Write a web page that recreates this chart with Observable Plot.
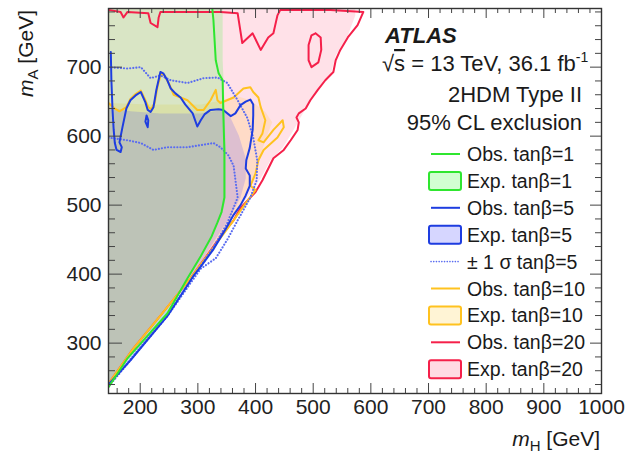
<!DOCTYPE html>
<html><head><meta charset="utf-8">
<script src="https://cdn.jsdelivr.net/npm/d3@7"></script>
<script src="https://cdn.jsdelivr.net/npm/@observablehq/plot@0.6"></script>
<style>
body{margin:0;background:#fff}
svg{font-family:"Liberation Sans",Arial,sans-serif}
</style>
</head><body><div id="chart"></div>
<script>
// ---- data: [mH, mA] in GeV ----
const xTicks = [200,300,400,500,600,700,800,900,1000];
const yTicks = [300,400,500,600,700];

const expTb20 = [[145,785],[573,785],[573,775],[560,746],[539,717],[530,688],[513,674],[495,652],[478,627],[464,606],[447,583],[426,565],[409,539],[391,517],[371,496],[348,467],[287,397],[235,343],[188,293],[145,241]];
const expTb10 = [[145,648],[218,646],[305,646],[343,652],[365,659],[391,652],[417,635],[429,620],[417,594],[403,557],[391,528],[374,504],[348,467],[287,397],[235,343],[145,240]];
const expTb1  = [[145,785],[343,785],[343,710],[346,652],[348,580],[348,511],[343,490],[333,471],[305,425],[282,394],[247,344],[178,279],[145,237]];
const expTb5  = [[145,642],[183,636],[235,633],[305,633],[343,638],[357,626],[371,601],[383,568],[383,539],[374,511],[360,489],[343,467],[305,417],[247,342],[145,238]];

const obsTb20 = [[145,783],[166,780],[171,772],[178,780],[214,778],[218,764],[230,758],[232,772],[235,780],[339,780],[369,778],[377,735],[395,749],[409,725],[422,743],[431,749],[438,775],[443,783],[530,783],[587,780],[577,761],[560,743],[547,725],[539,710],[535,693],[521,681],[508,667],[495,652],[487,640],[475,633],[471,627],[475,620],[473,609],[461,594],[449,580],[431,568],[412,536],[400,519],[374,496],[362,478],[344,460],[287,394],[235,340],[188,292],[145,241]];
const obsTb20Island = [[504,749],[513,743],[514,725],[509,707],[497,700],[492,710],[492,732],[497,746],[504,749]];
const obsTb10 = [[145,648],[154,641],[164,636],[176,642],[183,654],[192,661],[201,666],[209,652],[214,642],[219,639],[225,648],[230,672],[236,690],[242,688],[250,676],[258,660],[270,656],[282,652],[299,638],[310,638],[322,652],[331,667],[334,652],[339,648],[362,656],[379,669],[391,671],[396,664],[405,656],[409,642],[417,623],[412,604],[405,594],[414,591],[431,609],[447,623],[449,613],[438,598],[414,580],[405,565],[400,546],[391,528],[400,522],[383,503],[362,478],[287,394],[235,340],[188,292],[145,241]];
const obsTb5 = [[149,722],[150,681],[152,638],[154,609],[156,590],[159,580],[166,577],[168,584],[164,591],[169,612],[176,640],[183,652],[192,659],[201,664],[209,649],[213,638],[218,635],[223,642],[228,667],[235,693],[240,691],[247,681],[253,669],[261,662],[270,656],[278,646],[291,633],[299,614],[305,623],[312,632],[322,638],[336,639],[344,638],[357,629],[365,633],[374,645],[383,650],[391,653],[396,646],[396,630],[395,609],[390,583],[384,565],[383,553],[390,543],[390,528],[383,514],[374,500],[362,486],[348,465],[327,436],[305,411],[292,397],[247,339],[183,275],[145,240]];
const obsTb5Blob = [[211,630],[214,623],[213,613],[209,621],[211,630]];
const sigUpTb5 = [[145,700],[178,698],[201,700],[218,684],[235,688],[253,681],[282,677],[310,684],[334,685],[351,677],[369,652],[386,626],[396,598],[403,565],[402,536],[391,511],[369,478],[351,450],[331,423],[305,408],[247,339],[145,237]];
const sigDnTb5 = [[145,598],[178,594],[201,590],[223,580],[247,584],[282,584],[305,587],[327,590],[339,584],[353,572],[362,557],[369,511],[351,474],[327,439],[305,412],[247,341],[145,238]];
const obsTb1 = [[325,785],[327,768],[331,710],[336,691],[343,681],[344,637],[346,579],[346,511],[341,490],[334,475],[324,455],[305,426],[282,394],[258,359],[247,343],[178,278],[145,236]];

const C = {g:"#2fe62f", b:"#1e3de0", bd:"#5a6cf0", y:"#ffc21f", r:"#f5204a"};
const FILL = {g:["#00ff00",0.15], b:["#3333ff",0.17], y:["#ffc21f",0.16], r:["#ff3366",0.15]};

const W = 625, H = 461, mL = 108, mR = 24, mT = 8, mB = 68;
const plotW = W - mL - mR, plotH = H - mT - mB;
const xMinor = d3.range(160, 1001, 20).filter(v => v % 100 !== 0);
const yMinor = d3.range(240, 785, 20).filter(v => v % 100 !== 0);
const xMajor = xTicks, yMajor = yTicks;
const acc = {x: d => d[0], y: d => d[1]};
const fillPoly = (data, k) => Plot.line(data, {...acc, fill: FILL[k][0], fillOpacity: FILL[k][1], stroke: "none", clip: true});
const ln = (data, col, extra={}) => Plot.line(data, {...acc, stroke: col, strokeWidth: 2, clip: true, ...extra});
const tick = "#444";
const dotted = {strokeWidth: 2.1, strokeDasharray: "0.1,3", strokeLinecap: "round"};

const plot = Plot.plot({
  width: W, height: H, marginLeft: mL, marginRight: mR, marginTop: mT, marginBottom: mB,
  x: {domain: [145, 1000]},
  y: {domain: [227, 785]},
  style: {color: "#222", fontFamily: "Liberation Sans, Arial, sans-serif"},
  marks: [
    fillPoly(expTb20, "r"),
    fillPoly(expTb10, "y"),
    fillPoly(expTb1, "g"),
    fillPoly(expTb5, "b"),
    ln(obsTb20, C.r), ln(obsTb20Island, C.r),
    ln(obsTb10, C.y),
    ln(sigUpTb5, C.bd, dotted),
    ln(sigDnTb5, C.bd, dotted),
    ln(obsTb5, C.b), ln(obsTb5Blob, C.b),
    ln(obsTb1, C.g),
    // inward ticks on all four sides
    Plot.tickX(xMinor, {x: d => d, insetTop: plotH - 5, stroke: tick}),
    Plot.tickX(xMajor, {x: d => d, insetTop: plotH - 10, stroke: tick}),
    Plot.tickX(xMinor, {x: d => d, insetBottom: plotH - 5, stroke: tick}),
    Plot.tickX(xMajor, {x: d => d, insetBottom: plotH - 10, stroke: tick}),
    Plot.tickY(yMinor, {y: d => d, insetRight: plotW - 7, stroke: tick}),
    Plot.tickY(yMajor, {y: d => d, insetRight: plotW - 14, stroke: tick}),
    Plot.tickY(yMinor, {y: d => d, insetLeft: plotW - 6, stroke: tick}),
    Plot.tickY(yMajor, {y: d => d, insetLeft: plotW - 11, stroke: tick}),
    Plot.axisX(xTicks, {anchor: "bottom", tickSize: 0, tickPadding: 6, fontSize: 21, label: null, tickFormat: d => `${d}`}),
    Plot.axisY(yTicks, {anchor: "left", tickSize: 0, tickPadding: 7, fontSize: 21, label: null, tickFormat: d => `${d}`}),
    Plot.frame({stroke: "#333", strokeWidth: 1.4})
  ]
});
document.getElementById("chart").append(plot);

// ---- annotations (text, legend) ----
const svg = d3.select(plot);
const font = "Liberation Sans, Arial, sans-serif";
const g = svg.append("g").attr("font-family", font).attr("fill", "#1a1a1a").attr("text-anchor", "start");

// axis titles
const yt = g.append("text").attr("transform", "translate(33,10) rotate(-90)").attr("text-anchor", "end").attr("font-size", 21);
yt.append("tspan").attr("font-style", "italic").text("m");
yt.append("tspan").attr("font-size", 15).attr("dy", 5).text("A");
yt.append("tspan").attr("dy", -5).text(" [GeV]");
const xt = g.append("text").attr("x", 600).attr("y", 446).attr("text-anchor", "end").attr("font-size", 21);
xt.append("tspan").attr("font-style", "italic").text("m");
xt.append("tspan").attr("font-size", 15).attr("dy", 5).text("H");
xt.append("tspan").attr("dy", -5).text(" [GeV]");

// experiment labels
g.append("text").attr("x", 385).attr("y", 43).attr("font-size", 22).attr("font-weight", "bold").attr("font-style", "italic").text("ATLAS");
const en = g.append("text").attr("x", 382).attr("y", 71).attr("font-size", 22);
en.append("tspan").text("√");
en.append("tspan").style("text-decoration", "overline").text("s");
en.append("tspan").text(" = 13 TeV, 36.1 fb");
en.append("tspan").attr("font-size", 14).attr("dy", -9).text("-1");
g.append("text").attr("x", 582).attr("y", 102).attr("text-anchor", "end").attr("font-size", 22).text("2HDM Type II");
g.append("text").attr("x", 582).attr("y", 130).attr("text-anchor", "end").attr("font-size", 22).text("95% CL exclusion");

// legend
const legendLabels = ["Obs. tanβ=1","Exp. tanβ=1","Obs. tanβ=5","Exp. tanβ=5","± 1 σ tanβ=5","Obs. tanβ=10","Exp. tanβ=10","Obs. tanβ=20","Exp. tanβ=20"];
const legendKinds = [["line","g"],["box","g"],["line","b"],["box","b"],["dot","b"],["line","y"],["box","y"],["line","r"],["box","r"]];
legendLabels.forEach((lab, i) => {
  const cy = 154 + i * 26.9;
  const [kind, k] = legendKinds[i];
  if (kind === "box") {
    g.append("rect").attr("x", 429).attr("y", cy - 9).attr("width", 32).attr("height", 18).attr("rx", 2)
      .attr("fill", FILL[k][0]).attr("fill-opacity", FILL[k][1] + 0.03).attr("stroke", C[k]).attr("stroke-width", 2);
  } else if (kind === "line") {
    g.append("line").attr("x1", 431).attr("x2", 460).attr("y1", cy).attr("y2", cy).attr("stroke", C[k]).attr("stroke-width", 2);
  } else {
    g.append("line").attr("x1", 431).attr("x2", 460).attr("y1", cy).attr("y2", cy).attr("stroke", C.bd).attr("stroke-width", 1.6)
      .attr("stroke-dasharray", "0.1,2.6").attr("stroke-linecap", "round");
  }
  g.append("text").attr("x", 467).attr("y", cy + 7).attr("font-size", 19.5).text(lab);
});
</script>
</body></html>
